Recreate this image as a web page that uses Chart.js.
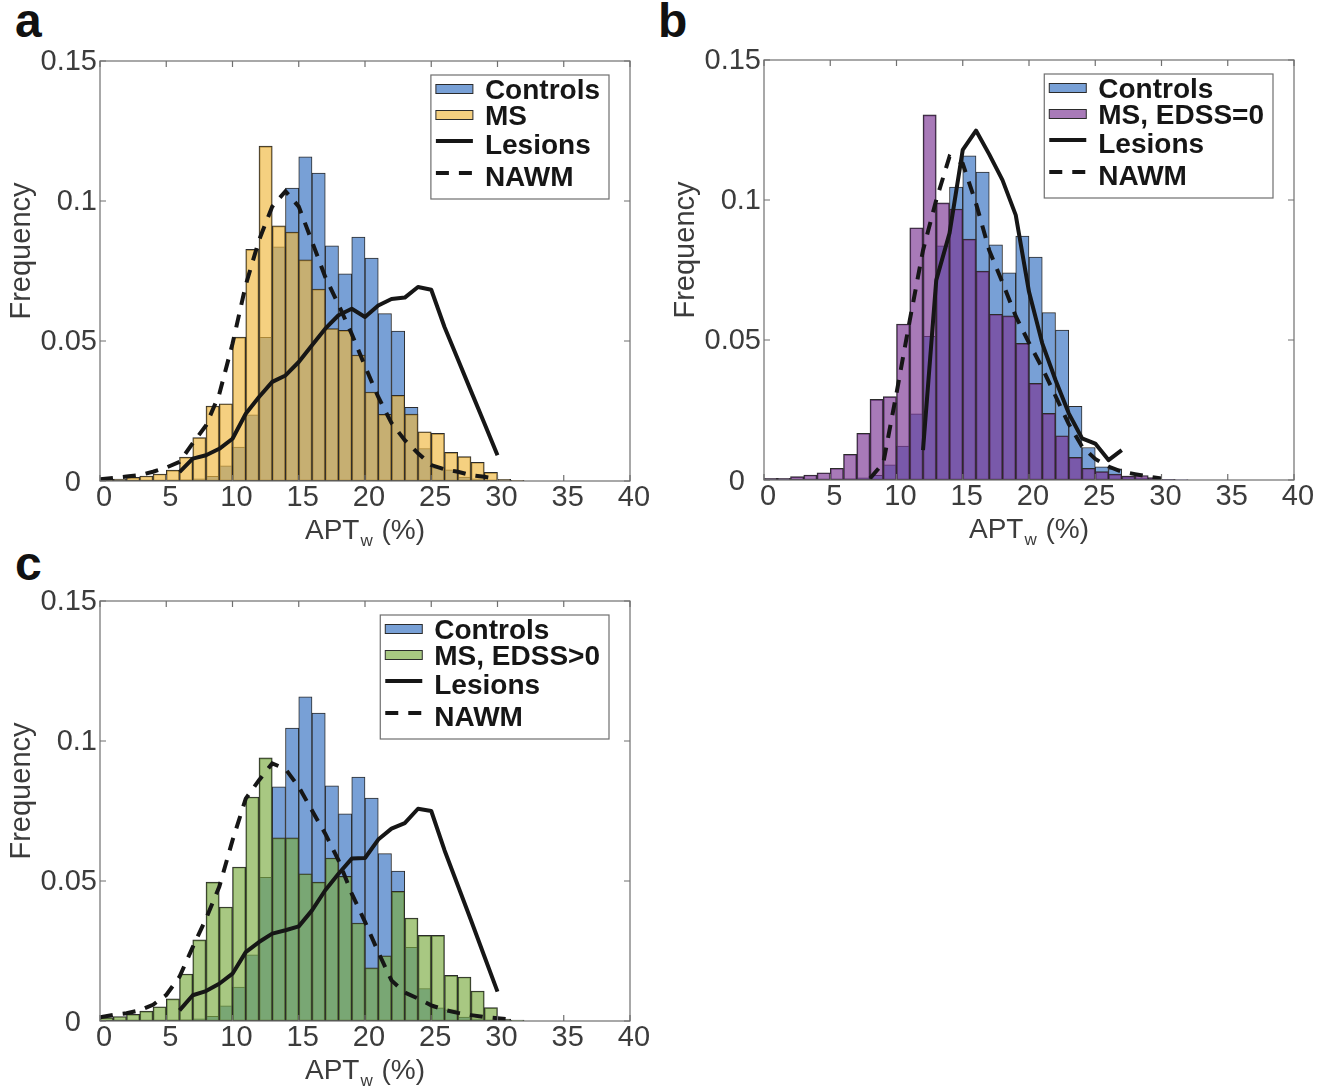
<!DOCTYPE html>
<html lang="en">
<head>
<meta charset="UTF-8">
<title>APTw histograms - controls vs MS</title>
<script src="https://cdn.jsdelivr.net/npm/chart.js"></script>
<style>
    body {
        margin: 0;
        background: #fff;
        overflow: hidden;
        font-family: "Liberation Sans", Arial, sans-serif;
    }

    .panel {
        position: absolute;
        width: 660px;
        height: 530px;
    }

    .letter {
        position: absolute;
        font-weight: bold;
        font-size: 48px;
        line-height: 1;
        color: #111;
    }
</style>
</head>
<body>
<div class="letter" style="left:15px;top:-3px">a</div>
<div class="letter" style="left:658px;top:-3px">b</div>
<div class="letter" style="left:15px;top:540px">c</div>

<div class="panel" style="left:0;top:30px"><canvas id="chartA" width="660" height="530"></canvas></div>
<div class="panel" style="left:664px;top:29px"><canvas id="chartB" width="660" height="530"></canvas></div>
<div class="panel" style="left:0;top:570px"><canvas id="chartC" width="660" height="530"></canvas></div>

<script>
// histogram bins (width 1, centres)
const bins = [0.5, 1.5, 2.5, 3.5, 4.5, 5.5, 6.5, 7.5, 8.5, 9.5, 10.5, 11.5, 12.5, 13.5, 14.5, 15.5,
    16.5, 17.5, 18.5, 19.5, 20.5, 21.5, 22.5, 23.5, 24.5, 25.5, 26.5, 27.5, 28.5, 29.5, 30.5, 31.5];

const controls = [0.0002, 0.0002, 0.0002, 0.0002, 0.0002, 0.0003, 0.0004, 0.0008, 0.0017, 0.0054, 0.0121, 0.0236,
    0.0513, 0.0836, 0.1046, 0.1158, 0.1100, 0.0840, 0.0740, 0.0871, 0.0796, 0.0598, 0.0535, 0.0263,
    0.0116, 0.0047, 0.0040, 0.0014, 0.0008, 0.0003, 0.0002, 0.0001];

const msAll = [0.0006, 0.0007, 0.0013, 0.0018, 0.0025, 0.0039, 0.0085, 0.0155, 0.0268, 0.0276, 0.0514, 0.0827,
    0.1196, 0.0911, 0.0889, 0.0790, 0.0685, 0.0544, 0.0538, 0.0450, 0.0318, 0.0238, 0.0306, 0.0239,
    0.0176, 0.0170, 0.0102, 0.0087, 0.0067, 0.0031, 0.0006, 0.0002];

const msEdss0 = [0.0006, 0.0006, 0.0012, 0.0018, 0.0026, 0.0042, 0.0092, 0.0167, 0.0288, 0.0298, 0.0557, 0.0901,
    0.1304, 0.0990, 0.0968, 0.0860, 0.0746, 0.0592, 0.0586, 0.0488, 0.0345, 0.0238, 0.0158, 0.0081,
    0.0042, 0.0030, 0.0021, 0.0014, 0.0016, 0.0009, 0.0002, 0.0001];

const msEdssPos = [0.0012, 0.0016, 0.0024, 0.0035, 0.0051, 0.0079, 0.0168, 0.0290, 0.0496, 0.0407, 0.0550, 0.0800,
    0.0940, 0.0654, 0.0654, 0.0526, 0.0496, 0.0582, 0.0517, 0.0350, 0.0190, 0.0233, 0.0463, 0.0368,
    0.0306, 0.0306, 0.0163, 0.0157, 0.0107, 0.0048, 0.0007, 0.0003];

// lesion / NAWM curves
const lesionXA = [6, 7, 8, 9, 10, 11, 12, 13, 14, 15, 16, 17, 18, 19, 20, 21, 22, 23, 24, 25, 26, 27, 28, 29, 30];
const lesionsA = [0.0032, 0.0080, 0.0092, 0.0115, 0.0151, 0.0240, 0.0300, 0.0354, 0.0377, 0.0425, 0.0485, 0.0544,
    0.0592, 0.0615, 0.0586, 0.0627, 0.0650, 0.0655, 0.0693, 0.0683, 0.0550, 0.0436, 0.0321, 0.0207, 0.0092];

const nawmXA = [0, 1, 2, 3, 4, 5, 6, 7, 8, 9, 10, 11, 12, 13, 14, 15, 16, 17, 18, 19, 20, 21, 22, 23, 24, 25, 26,
    27, 28, 29, 30];
const nawmA = [0.0006, 0.0011, 0.0016, 0.0021, 0.0033, 0.0048, 0.0068, 0.0135, 0.0198, 0.0310, 0.0490, 0.0700,
    0.0860, 0.0980, 0.1035, 0.0980, 0.0855, 0.0729, 0.0630, 0.0525, 0.0410, 0.0300, 0.0207, 0.0146,
    0.0099, 0.0057, 0.0042, 0.0033, 0.0021, 0.0015, 0.0008];

const lesionXB = [12, 13, 14, 15, 16, 17, 18, 19, 20, 21, 22, 23, 24, 25, 26, 27];
const lesionsB = [0.0107, 0.0714, 0.0881, 0.1179, 0.1248, 0.1163, 0.1071, 0.0946, 0.0672, 0.0488, 0.0357, 0.0238,
    0.0149, 0.0130, 0.0071, 0.0107];

const nawmXB = [8, 9, 10, 11, 12, 13, 14, 15, 16, 17, 18, 19, 20, 21, 22, 23, 24, 25, 26, 27, 28, 29, 30];
const nawmB = [0.0006, 0.0060, 0.0310, 0.0570, 0.0820, 0.1000, 0.1155, 0.1130, 0.0988, 0.0820, 0.0705, 0.0585,
    0.0490, 0.0400, 0.0300, 0.0200, 0.0120, 0.0075, 0.0048, 0.0030, 0.0021, 0.0012, 0.0005];

const lesionXC = [6, 7, 8, 9, 10, 11, 12, 13, 14, 15, 16, 17, 18, 19, 20, 21, 22, 23, 24, 25, 26, 27, 28, 29, 30];
const lesionsC = [0.0038, 0.0092, 0.0107, 0.0133, 0.0169, 0.0246, 0.0282, 0.0312, 0.0324, 0.0338, 0.0395, 0.0467,
    0.0526, 0.0580, 0.0582, 0.0648, 0.0687, 0.0707, 0.0758, 0.0750, 0.0610, 0.0485, 0.0360, 0.0232, 0.0105];

const nawmXC = [0, 1, 2, 3, 4, 5, 6, 7, 8, 9, 10, 11, 12, 13, 14, 15, 16, 17, 18, 19, 20, 21, 22, 23, 24, 25, 26,
    27, 28, 29, 30, 31];
const nawmC = [0.0013, 0.0022, 0.0028, 0.0038, 0.0058, 0.0093, 0.0158, 0.0264, 0.0365, 0.0479, 0.0645, 0.0794,
    0.0860, 0.0920, 0.0900, 0.0836, 0.0752, 0.0669, 0.0574, 0.0455, 0.0354, 0.0246, 0.0145, 0.0102,
    0.0080, 0.0056, 0.0040, 0.0029, 0.0021, 0.0014, 0.0010, 0.0005];

// axes
const xTicks = [0, 5, 10, 15, 20, 25, 30, 35, 40];
const xTickLabels = ['0', '5', '10', '15', '20', '25', '30', '35', '40'];
const yTicks = [0, 0.05, 0.1, 0.15];
const yTickLabels = ['0', '0.05', '0.1', '0.15'];

const FONT = '"Liberation Sans", Arial, sans-serif';
const TEXT = '#3c3c3c';
const LINE = '#161616';
const EDGE = '#2b2b2b';

function pairs(xs, ys) {
    return xs.map((x, i) => ({ x: x, y: ys[i] }));
}

// box, inward ticks, tick labels, axis titles and legend (matlab look)
const panelDecor = {
    id: 'panelDecor',
    afterDraw(chart) {
        const { ctx, chartArea: a, scales } = chart;
        const x = scales.x, y = scales.y;
        ctx.save();

        // axis box + ticks
        ctx.strokeStyle = '#6f6f6f';
        ctx.lineWidth = 1.2;
        ctx.strokeRect(a.left, a.top, a.right - a.left, a.bottom - a.top);
        ctx.beginPath();
        xTicks.forEach(v => {
            const px = x.getPixelForValue(v);
            ctx.moveTo(px, a.bottom); ctx.lineTo(px, a.bottom - 6);
            ctx.moveTo(px, a.top); ctx.lineTo(px, a.top + 6);
        });
        yTicks.forEach(v => {
            const py = y.getPixelForValue(v);
            ctx.moveTo(a.left, py); ctx.lineTo(a.left + 6, py);
            ctx.moveTo(a.right, py); ctx.lineTo(a.right - 6, py);
        });
        ctx.stroke();

        // tick labels
        ctx.fillStyle = TEXT;
        ctx.font = '29px ' + FONT;
        ctx.textBaseline = 'middle';
        ctx.textAlign = 'center';
        xTicks.forEach((v, i) => {
            ctx.fillText(xTickLabels[i], x.getPixelForValue(v) + 4, a.bottom + 17);
        });
        ctx.textAlign = 'right';
        yTicks.forEach((v, i) => {
            const py = y.getPixelForValue(v);
            if (v === 0) ctx.fillText(yTickLabels[i], a.left - 19, py + 2);
            else ctx.fillText(yTickLabels[i], a.left - 3, py + 1);
        });

        // y title
        ctx.save();
        ctx.translate(a.left - 78, (a.top + a.bottom) / 2 - 20);
        ctx.rotate(-Math.PI / 2);
        ctx.font = '29px ' + FONT;
        ctx.textAlign = 'center';
        ctx.textBaseline = 'middle';
        ctx.fillText('Frequency', 0, 0);
        ctx.restore();

        // x title: APT with subscript w
        const main1 = 'APT', sub = 'w', main2 = ' (%)';
        ctx.textBaseline = 'middle';
        ctx.textAlign = 'left';
        ctx.font = '28px ' + FONT;
        const w1 = ctx.measureText(main1).width, w3 = ctx.measureText(main2).width;
        ctx.font = '17px ' + FONT;
        const w2 = ctx.measureText(sub).width + 2;
        const tx = (a.left + a.right) / 2 - (w1 + w2 + w3) / 2;
        const ty = a.bottom + 50;
        ctx.font = '28px ' + FONT;
        ctx.fillText(main1, tx, ty);
        ctx.font = '17px ' + FONT;
        ctx.fillText(sub, tx + w1 + 1, ty + 10);
        ctx.font = '28px ' + FONT;
        ctx.fillText(main2, tx + w1 + w2, ty);

        // legend
        const ds = chart.data.datasets;
        ctx.font = 'bold 28px ' + FONT;
        const tw = Math.max(...ds.map(d => ctx.measureText(d.label).width));
        const bw = 54 + tw + 9, bh = 124;
        const bx = a.right - 21 - bw, by = a.top + 14;
        ctx.fillStyle = '#fff';
        ctx.fillRect(bx, by, bw, bh);
        ctx.strokeStyle = '#6f6f6f';
        ctx.lineWidth = 1.2;
        ctx.strokeRect(bx, by, bw, bh);
        const patchY = [14, 40, 66, 98];
        const textY = [16, 42, 71, 103];
        ds.forEach((d, i) => {
            const yy = by + patchY[i];
            if (d.type === 'line') {
                ctx.strokeStyle = d.borderColor;
                ctx.lineWidth = d.borderWidth;
                ctx.setLineDash(d.borderDash || []);
                ctx.beginPath();
                ctx.moveTo(bx + 5, yy);
                ctx.lineTo(bx + 42, yy);
                ctx.stroke();
                ctx.setLineDash([]);
            } else {
                ctx.fillStyle = d.backgroundColor;
                ctx.fillRect(bx + 5, yy - 4.5, 37, 9);
                ctx.strokeStyle = EDGE;
                ctx.lineWidth = 1;
                ctx.strokeRect(bx + 5, yy - 4.5, 37, 9);
            }
            ctx.fillStyle = '#161616';
            ctx.font = 'bold 28px ' + FONT;
            ctx.textBaseline = 'middle';
            ctx.fillText(d.label, bx + 54, by + textY[i]);
        });
        ctx.restore();
    }
};

function makeChart(id, msLabel, msColor, msValues, lesX, lesY, nawmX, nawmY) {
    return new Chart(document.getElementById(id), {
        type: 'bar',
        data: {
            datasets: [{
                label: 'Controls',
                data: pairs(bins, controls),
                backgroundColor: 'rgb(120,160,214)',
                borderColor: EDGE,
                borderWidth: 1,
                borderSkipped: false,
                barPercentage: 1,
                categoryPercentage: 1,
                grouped: false,
                order: 4
            }, {
                label: msLabel,
                data: pairs(bins, msValues),
                backgroundColor: msColor,
                borderColor: EDGE,
                borderWidth: 1,
                borderSkipped: false,
                barPercentage: 1,
                categoryPercentage: 1,
                grouped: false,
                order: 3
            }, {
                type: 'line',
                label: 'Lesions',
                data: pairs(lesX, lesY),
                borderColor: LINE,
                borderWidth: 4,
                pointRadius: 0,
                fill: false,
                tension: 0,
                borderJoinStyle: 'round',
                order: 2
            }, {
                type: 'line',
                label: 'NAWM',
                data: pairs(nawmX, nawmY),
                borderColor: LINE,
                borderWidth: 4,
                borderDash: [13, 10],
                pointRadius: 0,
                fill: false,
                tension: 0,
                order: 1
            }]
        },
        options: {
            responsive: false,
            animation: false,
            events: [],
            layout: { padding: { top: 31, right: 30, left: 0, bottom: 0 } },
            plugins: { legend: { display: false }, tooltip: { enabled: false } },
            scales: {
                x: {
                    type: 'linear',
                    min: 0,
                    max: 40,
                    offset: false,
                    grid: { display: false, offset: false },
                    border: { display: false },
                    afterBuildTicks: s => { s.ticks = xTicks.map(v => ({ value: v })); },
                    afterFit: s => { s.height = 79; },
                    ticks: { display: false }
                },
                y: {
                    min: 0,
                    max: 0.15,
                    grid: { display: false },
                    border: { display: false },
                    afterBuildTicks: s => { s.ticks = yTicks.map(v => ({ value: v })); },
                    afterFit: s => { s.width = 100; },
                    ticks: { display: false }
                }
            }
        },
        plugins: [panelDecor]
    });
}

makeChart('chartA', 'MS', 'rgba(240,183,60,0.65)', msAll, lesionXA, lesionsA, nawmXA, nawmA);
makeChart('chartB', 'MS, EDSS=0', 'rgba(121,50,146,0.65)', msEdss0, lesionXB, lesionsB, nawmXB, nawmB);
makeChart('chartC', 'MS, EDSS>0', 'rgba(121,170,63,0.65)', msEdssPos, lesionXC, lesionsC, nawmXC, nawmC);
</script>
</body>
</html>
